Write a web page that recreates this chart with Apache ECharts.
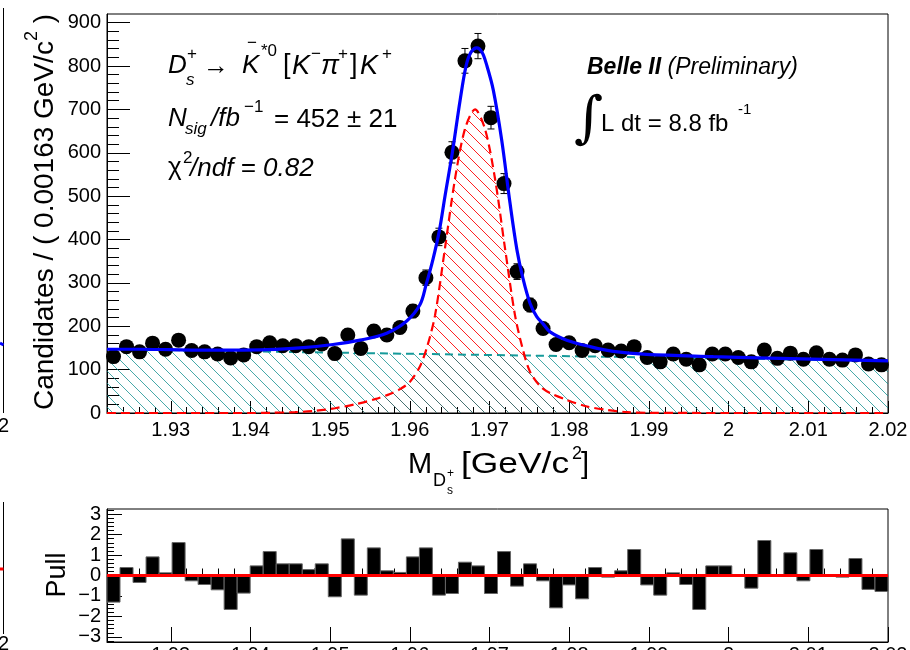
<!DOCTYPE html>
<html><head><meta charset="utf-8">
<script src="https://cdn.jsdelivr.net/npm/echarts@6/dist/echarts.min.js"></script>
<style>html,body{margin:0;padding:0;background:#fff}#c{width:910px;height:650px}</style>
</head><body><div id="c"></div>
<script>
// ---------------- data ----------------
const binLo = 1.922, binHi = 2.02, nBins = 60;
const counts = [130,153,141,161,147,168,144,141,136,127,134,153,162,155,155,153,159,137,180,149,
                189,180,197,235,312,406,601,812,846,681,529,326,249,195,158,162,144,155,145,143,
                153,128,118,136,124,111,136,136,128,118,145,126,138,124,139,124,122,134,113,111];
const countErr = [11.4,12.4,11.9,12.7,12.1,13.0,12.0,11.9,11.7,11.3,11.6,12.4,12.7,12.4,12.4,12.4,12.6,11.7,13.4,12.2,
                  13.7,13.4,14.0,15.3,17.7,20.1,24.5,28.5,29.1,26.1,23.0,18.1,15.8,14.0,12.6,12.7,12.0,12.4,12.0,12.0,
                  12.4,11.3,10.9,11.7,11.1,10.5,11.7,11.7,11.3,10.9,12.0,11.2,11.7,11.1,11.8,11.1,11.0,11.6,10.6,10.5];
const pulls = [-1.30,0.39,-0.34,0.91,0.13,1.61,-0.26,-0.44,-0.70,-1.66,-0.86,0.47,1.17,0.57,0.57,0.29,0.57,-1.04,1.79,-0.96,
               1.35,0.23,0.15,0.91,1.35,-0.96,-0.88,0.65,0.47,-0.88,1.17,-0.52,0.57,-0.26,-1.58,-0.46,-1.14,0.39,-0.08,0.23,
               1.27,-0.46,-0.96,0.13,-0.44,-1.66,0.47,0.47,0.02,-0.62,1.71,0.00,1.11,-0.26,1.27,0.00,-0.08,0.83,-0.68,-0.78];
const bkgMass = [1.922, 2.02];
const bkgVal  = [147, 120];
const sigMass = [1.9220,1.9400,1.94245,1.94559,1.9481,1.95061,1.95312,1.95563,1.95751,1.95877,1.96002,1.96128,1.96216,
                 1.96316,1.96441,1.96567,1.96692,1.96818,1.96943,1.97069,1.97194,1.9732,1.9742,1.97508,1.97634,1.97759,
                 1.97972,1.98223,1.98474,1.98725,1.99014,2.0000,2.0200];
const sigVal  = [0,0,0.5,2,5,11,20,32,44,55,72,108,152,225,380,540,655,700,655,540,380,225,145,95,62,46,30,15,7,2,0.5,0,0];
const totMass = [1.92200,1.92614,1.92991,1.93367,1.93781,1.94204,1.94622,1.95036,1.95375,1.95710,1.95961,1.96128,1.96203,
                 1.96291,1.96370,1.96441,1.96533,1.96630,1.96705,1.96768,1.96839,1.96906,1.96968,1.97048,1.97153,1.97257,
                 1.97345,1.97420,1.97508,1.97592,1.97675,1.97759,1.97969,1.98261,1.98553,1.98972,1.99808,2.00645,2.02000];
const totVal  = [147,147,146,145,145,146,150,158,168,184,212,250,295,355,420,500,600,720,800,832,842,832,800,744,629,484,
                 375,310,253,222,205,187,168,153,142,135,130,126,120];
const xMajor = [1.93,1.94,1.95,1.96,1.97,1.98,1.99,2.00,2.01,2.02];
const yMainMajor = [0,100,200,300,400,500,600,700,800,900];
const yPullMajor = [-3,-2,-1,0,1,2,3];

// ---------------- helpers ----------------
const FF = '"Liberation Sans", Arial, Helvetica, sans-serif';
const binW = (binHi - binLo) / nBins;
const xMinor = [];
for (let k = 0; k <= 49; k++) { const v = Math.round((1.922 + k * 0.002) * 1000) / 1000; if (Math.round(v * 1000) % 10 !== 0) xMinor.push(v); }
const yMainMinor = [];
for (let v = 20; v < 910; v += 20) if (v % 100 !== 0) yMainMinor.push(v);
const yPullMinor = [];
for (let k = -16; k <= 16; k++) if (k % 5 !== 0) yPullMinor.push(k / 5);

function hatch(color, size, lw) {
  const c = document.createElement('canvas'); c.width = c.height = size;
  const g = c.getContext('2d'); g.strokeStyle = color; g.lineWidth = lw; g.beginPath();
  g.moveTo(-1, -1); g.lineTo(size + 1, size + 1);
  g.moveTo(size - 1, -1); g.lineTo(size + 1, 1);
  g.moveTo(-1, size - 1); g.lineTo(1, size + 1);
  g.stroke(); return c;
}
const pts = counts.map((c, i) => [binLo + (i + 0.5) * binW, c, countErr[i]]);
const pullBars = pulls.map((p, i) => [binLo + i * binW, binLo + (i + 1) * binW, p]);
const zip = (a, b) => a.map((v, i) => [v, b[i]]);

function T(text, x, y, size, o) {
  o = o || {};
  return { type: 'text', x: x, y: y, z: 100, rotation: o.rot || 0, scaleX: o.sx || 1,
    style: { text: text, fontSize: size, fontFamily: o.ff || FF, fontStyle: o.it ? 'italic' : 'normal',
      fontWeight: o.b ? 'bold' : 'normal', fill: '#000', align: o.align || 'left', verticalAlign: 'middle',
      rich: o.rich } };
}
const fmtX = v => String(+(+v).toFixed(2));

const axBase = (extra) => Object.assign({ type: 'value', splitLine: { show: false }, minorSplitLine: { show: false } }, extra);

const chart = echarts.init(document.getElementById('c'), null, { renderer: 'canvas' });
chart.setOption({
  animation: false,
  backgroundColor: '#fff',
  grid: [
    { left: 107, right: 22, top: 14, bottom: 237, show: true, borderColor: '#000', borderWidth: 1, backgroundColor: '#fff',
      containLabel: false, outerBoundsMode: 'none' },
    { left: 107, right: 22, top: 509, bottom: 8, show: true, borderColor: '#000', borderWidth: 1, backgroundColor: '#fff',
      containLabel: false, outerBoundsMode: 'none' }
  ],
  xAxis: [
    axBase({ gridIndex: 0, min: binLo, max: binHi, position: 'bottom',
      axisLine: { show: true, onZero: false, lineStyle: { color: '#000', width: 1 } },
      axisTick: { show: true, inside: true, length: 12, customValues: xMajor, lineStyle: { color: '#000' } },
      axisLabel: { show: true, customValues: xMajor, formatter: fmtX, color: '#000', fontSize: 20, fontFamily: FF, margin: 7 } }),
    axBase({ gridIndex: 0, min: binLo, max: binHi, position: 'bottom',
      axisLine: { show: false }, axisTick: { show: true, inside: true, length: 6, customValues: xMinor, lineStyle: { color: '#000' } },
      axisLabel: { show: false } }),
    axBase({ gridIndex: 1, min: binLo, max: binHi, position: 'bottom',
      axisLine: { show: true, onZero: false, lineStyle: { color: '#000', width: 1 } },
      axisTick: { show: true, inside: true, length: 15, customValues: xMajor, lineStyle: { color: '#000' } },
      axisLabel: { show: true, customValues: xMajor, formatter: fmtX, color: '#000', fontSize: 20, fontFamily: FF, margin: 3 } }),
    axBase({ gridIndex: 1, min: binLo, max: binHi, position: 'bottom',
      axisLine: { show: false }, axisTick: { show: true, inside: true, length: 7, customValues: xMinor, lineStyle: { color: '#000' } },
      axisLabel: { show: false } })
  ],
  yAxis: [
    axBase({ gridIndex: 0, min: 0, max: 920, position: 'left',
      axisLine: { show: true, onZero: false, lineStyle: { color: '#000', width: 1 } },
      axisTick: { show: true, inside: true, length: 23, customValues: yMainMajor, lineStyle: { color: '#000' } },
      axisLabel: { show: true, customValues: yMainMajor, color: '#000', fontSize: 20, fontFamily: FF, margin: 6 } }),
    axBase({ gridIndex: 0, min: 0, max: 920, position: 'left',
      axisLine: { show: false }, axisTick: { show: true, inside: true, length: 12, customValues: yMainMinor, lineStyle: { color: '#000' } },
      axisLabel: { show: false } }),
    axBase({ gridIndex: 1, min: -3.25, max: 3.25, position: 'left',
      axisLine: { show: true, onZero: false, lineStyle: { color: '#000', width: 1 } },
      axisTick: { show: true, inside: true, length: 15, customValues: yPullMajor, lineStyle: { color: '#000' } },
      axisLabel: { show: true, customValues: yPullMajor, color: '#000', fontSize: 20, fontFamily: FF, margin: 6, hideOverlap: false,
        formatter: v => (v < 0 ? '\u2212' + Math.abs(v) : String(v)) } }),
    axBase({ gridIndex: 1, min: -3.25, max: 3.25, position: 'left',
      axisLine: { show: false }, axisTick: { show: true, inside: true, length: 7, customValues: yPullMinor, lineStyle: { color: '#000' } },
      axisLabel: { show: false } })
  ],
  series: [
    { name: 'sigArea', type: 'line', xAxisIndex: 0, yAxisIndex: 0, z: 1, data: zip(sigMass, sigVal), smooth: 0.3,
      showSymbol: false, silent: true, lineStyle: { width: 0, opacity: 0 },
      areaStyle: { color: { image: hatch('#ff2020', 12, 1), repeat: 'repeat' }, opacity: 1 } },
    { name: 'bkg', type: 'line', xAxisIndex: 0, yAxisIndex: 0, z: 2, data: zip(bkgMass, bkgVal),
      showSymbol: false, silent: true, lineStyle: { color: '#159a9a', width: 2, type: [8, 5] },
      areaStyle: { color: { image: hatch('rgba(10,140,140,0.75)', 12, 1), repeat: 'repeat' }, opacity: 1 } },
    { name: 'sigLine', type: 'line', xAxisIndex: 0, yAxisIndex: 0, z: 3, data: zip(sigMass, sigVal), smooth: 0.3,
      showSymbol: false, silent: true, lineStyle: { color: '#ff0000', width: 2.2, type: [9, 5] } },
    { name: 'err', type: 'custom', xAxisIndex: 0, yAxisIndex: 0, z: 4, data: pts, silent: true,
      renderItem: (params, api) => {
        const x = api.value(0), y = api.value(1), e = api.value(2);
        const t = api.coord([x, y + e]), b = api.coord([x, y - e]);
        const cap = 3.5, st = { stroke: '#000', lineWidth: 1 };
        return { type: 'group', children: [
          { type: 'line', shape: { x1: t[0], y1: t[1], x2: b[0], y2: b[1] }, style: st },
          { type: 'line', shape: { x1: t[0] - cap, y1: t[1], x2: t[0] + cap, y2: t[1] }, style: st },
          { type: 'line', shape: { x1: b[0] - cap, y1: b[1], x2: b[0] + cap, y2: b[1] }, style: st } ] };
      } },
    { name: 'data', type: 'scatter', xAxisIndex: 0, yAxisIndex: 0, z: 5, data: pts.map(p => [p[0], p[1]]),
      symbol: 'circle', symbolSize: 15, itemStyle: { color: '#000', opacity: 1 }, silent: true },
    { name: 'total', type: 'line', xAxisIndex: 0, yAxisIndex: 0, z: 6, data: zip(totMass, totVal), smooth: 0.35,
      showSymbol: false, silent: true, lineStyle: { color: '#0000ff', width: 3.2 } },
    { name: 'pull', type: 'custom', xAxisIndex: 2, yAxisIndex: 2, z: 2, data: pullBars, silent: true,
      renderItem: (params, api) => {
        const p1 = api.coord([api.value(0), api.value(2)]), p2 = api.coord([api.value(1), 0]);
        return { type: 'rect', shape: { x: p1[0], y: Math.min(p1[1], p2[1]), width: p2[0] - p1[0], height: Math.abs(p2[1] - p1[1]) },
          style: { fill: '#000', stroke: '#666', lineWidth: 1 } };
      } },
    { name: 'zero', type: 'line', xAxisIndex: 2, yAxisIndex: 2, z: 3, data: [[binLo, 0], [binHi, 0]],
      showSymbol: false, silent: true, lineStyle: { color: '#ff0000', width: 3 } }
  ],
  graphic: [
    // y title
    T('{a|Candidates / ( 0.00163 GeV/c}{s|2}{a| )}', 45, 212, 28, { rot: Math.PI / 2, align: 'center',
      rich: { a: { fontSize: 28, lineHeight: 44, fontFamily: FF, fill: '#000' },
              s: { fontSize: 18, lineHeight: 18, fontFamily: FF, fill: '#000', verticalAlign: 'top' } } }),
    T('Pull', 58, 575, 27, { rot: Math.PI / 2, align: 'center' }),
    // x title
    T('M', 408, 465, 29), T('D', 433, 481, 18), T('s', 447, 491, 12), T('+', 447, 474, 12),
    T('[GeV/c', 461, 465, 29, { sx: 1.22 }), T('2', 572, 454, 18), T(']', 581, 465, 29),
    // line 1
    T('D', 168, 66, 26, { it: 1 }), T('s', 186, 80, 17, { it: 1 }), T('+', 187, 54, 17),
    T('\u2192', 203, 67, 26), T('K', 242, 66, 26, { it: 1 }), T('\u2212', 247, 43, 17), T('*0', 261, 51, 17),
    T('[', 283, 66, 27), T('K', 292, 66, 27, { it: 1 }), T('\u2212', 311, 54, 17), T('\u03c0', 321, 66, 27, { it: 1 }),
    T('+', 338, 54, 17), T(']', 350, 66, 27), T('K', 360, 66, 27, { it: 1 }), T('+', 382, 54, 17),
    // line 2
    T('N', 168, 119, 26, { it: 1 }), T('sig', 185, 129, 17, { it: 1 }), T('/fb', 211, 119, 26, { it: 1 }),
    T('\u22121', 244, 107, 17), T('= 452 \u00b1 21', 274, 120, 26),
    // line 3
    T('\u03c7', 168, 168, 26), T('2', 183, 158, 17), T('/ndf = 0.82', 190, 169, 26, { it: 1 }),
    // Belle
    T('{b|Belle II} {i|(Preliminary)}', 587, 68, 23, { rich: {
      b: { fontSize: 23, fontFamily: FF, fontWeight: 'bold', fontStyle: 'italic', fill: '#000' },
      i: { fontSize: 23, fontFamily: FF, fontStyle: 'italic', fill: '#000' } } }),
    T('\u222b', 574, 121, 56, { ff: '"DejaVu Serif", serif', it: 1 }),
    T('L dt = 8.8 fb', 601, 124, 24), T('-1', 738, 110, 15),
    // fragment of neighbouring plot at left edge
    { type: 'line', z: 100, shape: { x1: 3.5, y1: 8, x2: 3.5, y2: 413 }, style: { stroke: '#000', lineWidth: 1 } },
    { type: 'line', z: 100, shape: { x1: 0, y1: 343, x2: 3.5, y2: 345 }, style: { stroke: '#0000ff', lineWidth: 3 } },
    { type: 'line', z: 100, shape: { x1: 3.5, y1: 502, x2: 3.5, y2: 634 }, style: { stroke: '#000', lineWidth: 1 } },
    { type: 'line', z: 100, shape: { x1: 0, y1: 569, x2: 3.5, y2: 569 }, style: { stroke: '#ff0000', lineWidth: 3 } },
    T('2.02', 9, 426, 20, { align: 'right' }), T('2.02', 9, 644, 20, { align: 'right' })
  ]
});
</script></body></html>
